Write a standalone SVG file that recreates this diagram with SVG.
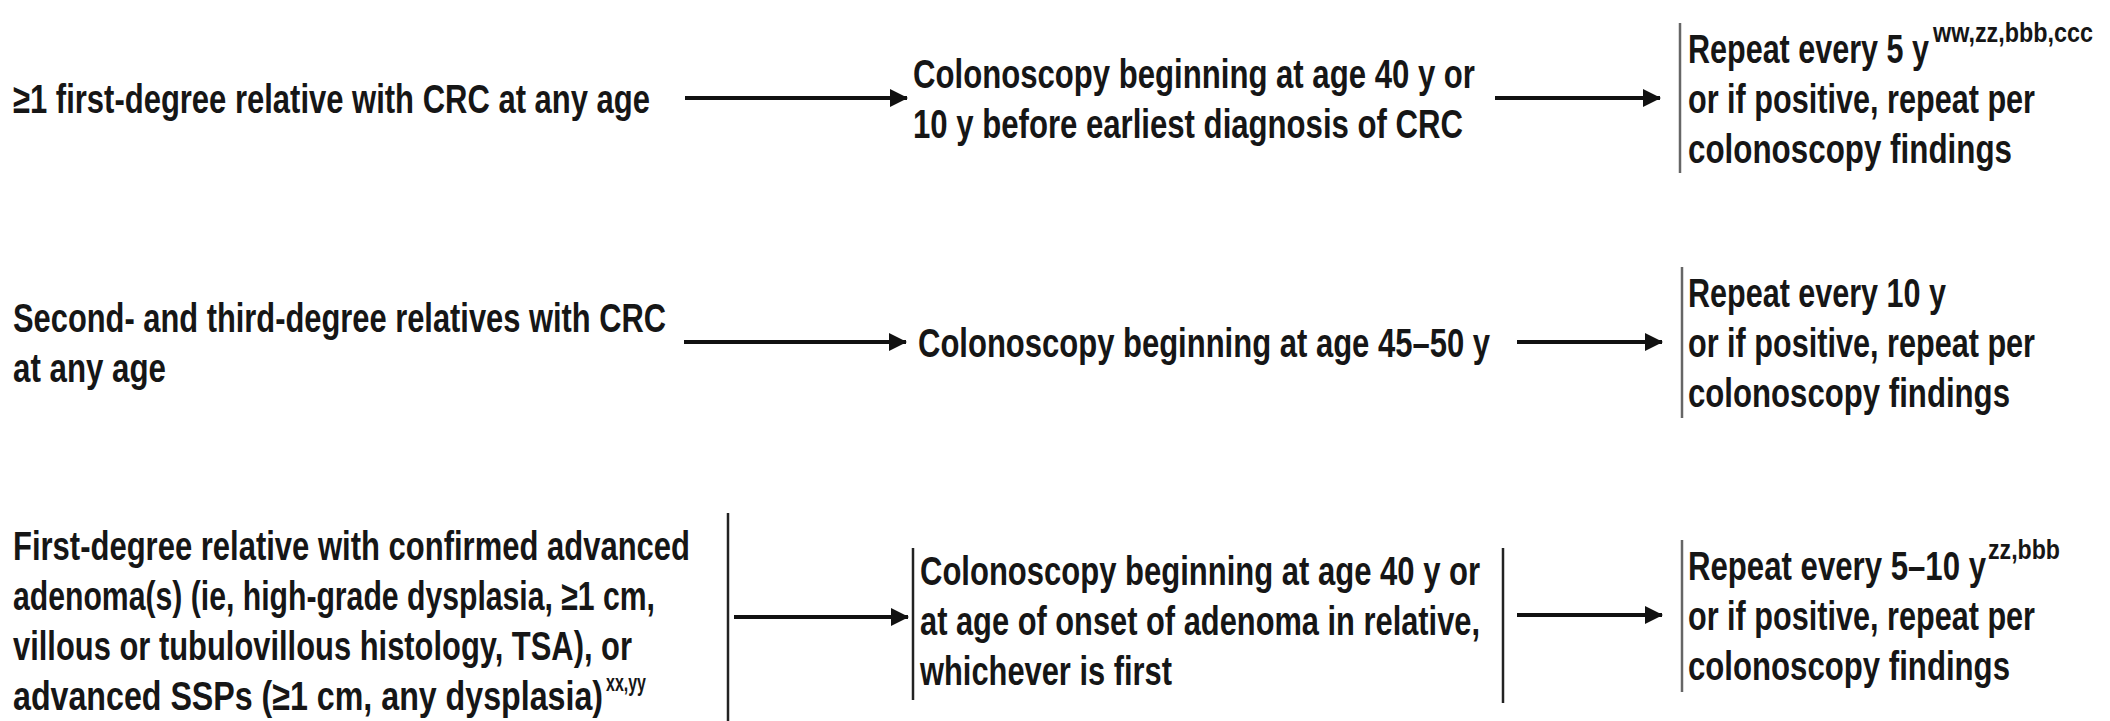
<svg xmlns="http://www.w3.org/2000/svg" width="2110" height="721" viewBox="0 0 2110 721">
<defs>
<style>
.t{font-family:"Liberation Sans",Arial,sans-serif;font-weight:700;font-size:41px;fill:#161616}
.s{font-family:"Liberation Sans",Arial,sans-serif;font-weight:700;font-size:28px;fill:#161616}
.x{font-family:"Liberation Sans",Arial,sans-serif;font-weight:700;font-size:24px;fill:#161616}
.ar{stroke:#111;stroke-width:4;fill:none}
.bg{stroke:#666;stroke-width:2.5}
.bk{stroke:#222;stroke-width:2.5}
</style>
<marker id="ah" markerUnits="userSpaceOnUse" markerWidth="18" markerHeight="18" refX="17" refY="9" orient="auto">
<path d="M0,0 L18,9 L0,18 Z" fill="#111"/>
</marker>
</defs>
<rect width="2110" height="721" fill="#fff"/>

<g id="connectors">
<line class="ar" x1="685" y1="98" x2="907" y2="98" marker-end="url(#ah)"/>
<line class="ar" x1="1495" y1="98" x2="1660" y2="98" marker-end="url(#ah)"/>
<line class="ar" x1="684" y1="342" x2="906" y2="342" marker-end="url(#ah)"/>
<line class="ar" x1="1517" y1="342" x2="1662" y2="342" marker-end="url(#ah)"/>
<line class="ar" x1="734" y1="617" x2="908" y2="617" marker-end="url(#ah)"/>
<line class="ar" x1="1517" y1="615" x2="1662" y2="615" marker-end="url(#ah)"/>
</g>

<g id="r1-risk">
<text class="t" transform="translate(13,113) scale(.75,1)" textLength="849.3" lengthAdjust="spacingAndGlyphs">≥1 first-degree relative with CRC at any age</text>
</g>
<g id="r1-screen">
<text class="t" transform="translate(913,88) scale(.75,1)" textLength="749.3" lengthAdjust="spacingAndGlyphs">Colonoscopy beginning at age 40 y or</text>
<text class="t" transform="translate(913,138) scale(.75,1)" textLength="733.3" lengthAdjust="spacingAndGlyphs">10 y before earliest diagnosis of CRC</text>
</g>
<g id="r1-repeat">
<line class="bg" x1="1680" y1="23" x2="1680" y2="173"/>
<text class="t" transform="translate(1688,63) scale(.75,1)" textLength="321.3" lengthAdjust="spacingAndGlyphs">Repeat every 5 y</text>
<text class="s" transform="translate(1933,42) scale(.75,1)" textLength="213.3" lengthAdjust="spacingAndGlyphs">ww,zz,bbb,ccc</text>
<text class="t" transform="translate(1688,113) scale(.75,1)" textLength="462.7" lengthAdjust="spacingAndGlyphs">or if positive, repeat per</text>
<text class="t" transform="translate(1688,163) scale(.75,1)" textLength="432" lengthAdjust="spacingAndGlyphs">colonoscopy findings</text>
</g>

<g id="r2-risk">
<text class="t" transform="translate(13,332) scale(.75,1)" textLength="870.7" lengthAdjust="spacingAndGlyphs">Second- and third-degree relatives with CRC</text>
<text class="t" transform="translate(13,382) scale(.75,1)" textLength="204" lengthAdjust="spacingAndGlyphs">at any age</text>
</g>
<g id="r2-screen">
<text class="t" transform="translate(918,357) scale(.75,1)" textLength="762.7" lengthAdjust="spacingAndGlyphs">Colonoscopy beginning at age 45–50 y</text>
</g>
<g id="r2-repeat">
<line class="bg" x1="1682" y1="267" x2="1682" y2="418"/>
<text class="t" transform="translate(1688,307) scale(.75,1)" textLength="344" lengthAdjust="spacingAndGlyphs">Repeat every 10 y</text>
<text class="t" transform="translate(1688,357) scale(.75,1)" textLength="462.7" lengthAdjust="spacingAndGlyphs">or if positive, repeat per</text>
<text class="t" transform="translate(1688,407) scale(.75,1)" textLength="429.3" lengthAdjust="spacingAndGlyphs">colonoscopy findings</text>
</g>

<g id="r3-risk">
<text class="t" transform="translate(13,560) scale(.75,1)" textLength="902.7" lengthAdjust="spacingAndGlyphs">First-degree relative with confirmed advanced</text>
<text class="t" transform="translate(13,610) scale(.75,1)" textLength="856" lengthAdjust="spacingAndGlyphs">adenoma(s) (ie, high-grade dysplasia, ≥1 cm,</text>
<text class="t" transform="translate(13,660) scale(.75,1)" textLength="825.3" lengthAdjust="spacingAndGlyphs">villous or tubulovillous histology, TSA), or</text>
<text class="t" transform="translate(13,710) scale(.75,1)" textLength="786.7" lengthAdjust="spacingAndGlyphs">advanced SSPs (≥1 cm, any dysplasia)</text>
<text class="x" transform="translate(606,691) scale(.75,1)" textLength="53.3" lengthAdjust="spacingAndGlyphs">xx,yy</text>
<line class="bk" x1="728" y1="513" x2="728" y2="721"/>
</g>
<g id="r3-screen">
<line class="bk" x1="913" y1="548" x2="913" y2="700"/>
<text class="t" transform="translate(920,585) scale(.75,1)" textLength="746.7" lengthAdjust="spacingAndGlyphs">Colonoscopy beginning at age 40 y or</text>
<text class="t" transform="translate(920,635) scale(.75,1)" textLength="746.7" lengthAdjust="spacingAndGlyphs">at age of onset of adenoma in relative,</text>
<text class="t" transform="translate(920,685) scale(.75,1)" textLength="336" lengthAdjust="spacingAndGlyphs">whichever is first</text>
<line class="bk" x1="1503" y1="548" x2="1503" y2="703"/>
</g>
<g id="r3-repeat">
<line class="bg" x1="1682" y1="540" x2="1682" y2="692"/>
<text class="t" transform="translate(1688,580) scale(.75,1)" textLength="397.3" lengthAdjust="spacingAndGlyphs">Repeat every 5–10 y</text>
<text class="s" transform="translate(1988,559) scale(.75,1)" textLength="96" lengthAdjust="spacingAndGlyphs">zz,bbb</text>
<text class="t" transform="translate(1688,630) scale(.75,1)" textLength="462.7" lengthAdjust="spacingAndGlyphs">or if positive, repeat per</text>
<text class="t" transform="translate(1688,680) scale(.75,1)" textLength="429.3" lengthAdjust="spacingAndGlyphs">colonoscopy findings</text>
</g>
</svg>
